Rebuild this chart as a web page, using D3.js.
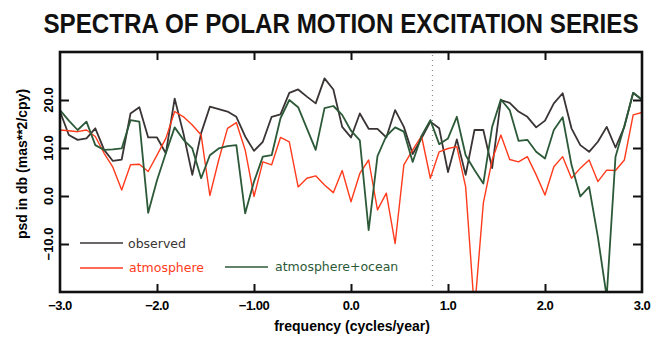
<!DOCTYPE html>
<html><head><meta charset="utf-8">
<script src="https://cdn.jsdelivr.net/npm/d3@7"></script>
<style>html,body{margin:0;padding:0;background:#fff;}svg{display:block;}</style>
</head><body>
<svg id="c" width="659" height="337"></svg>
<script>
const freq = [-3.000,-2.909,-2.818,-2.727,-2.636,-2.545,-2.455,-2.364,-2.273,-2.182,-2.091,-2.000,-1.909,-1.818,-1.727,-1.636,-1.545,-1.455,-1.364,-1.273,-1.182,-1.091,-1.000,-0.909,-0.818,-0.727,-0.636,-0.545,-0.455,-0.364,-0.273,-0.182,-0.091,0.000,0.091,0.182,0.273,0.364,0.455,0.545,0.636,0.727,0.818,0.909,1.000,1.091,1.182,1.273,1.364,1.455,1.545,1.636,1.727,1.818,1.909,2.000,2.091,2.182,2.273,2.364,2.455,2.545,2.636,2.727,2.818,2.909,3.000];
const observed = [17.6,12.7,11.7,12.0,14.1,9.6,7.3,7.6,17.2,18.5,12.2,12.2,8.9,20.3,13.0,4.4,13.1,18.6,18.1,17.6,16.5,12.4,9.4,11.3,16.5,17.0,21.5,22.2,20.7,19.3,24.5,22.2,14.4,12.2,17.2,14.0,14.0,12.2,17.9,14.4,8.75,12.0,15.5,14.1,5.0,11.8,4.4,13.75,13.75,5.8,20.0,19.4,17.6,16.5,14.3,15.7,19.3,21.4,14.1,10.6,9.2,11.3,14.4,10.1,14.4,21.5,20.0];
const atmosphere = [13.75,13.6,13.4,13.75,12.4,8.9,6.0,1.25,6.5,6.6,5.1,8.5,12.0,17.6,16.5,14.8,12.7,0.1,7.5,14.1,15.3,9.6,-0.1,7.1,6.5,12.2,11.3,1.9,3.7,4.2,2.3,0.7,5.3,-1.2,4.7,7.5,-2.9,0.6,-9.9,6.5,9.6,12.5,3.7,9.2,9.9,10.3,1.9,-24,-1.5,7.5,12.7,7.6,7.1,8.2,4.4,0.2,6.1,8.2,3.7,5.8,7.5,3.0,5.4,5.3,7.5,16.9,17.4];
const atmOcean = [17.9,15.7,13.75,15.5,10.6,9.6,9.7,9.9,15.8,15.5,-3.5,3.3,8.9,14.3,11.7,9.9,3.7,8.5,9.9,10.4,10.6,-3.6,3.0,8.2,8.5,16.2,20.0,18.5,14.1,9.6,18.3,18.75,16.9,13.6,11.6,-7.1,8.3,12.5,14.3,13.4,7.1,12.5,15.8,10.8,12.0,16.5,8.5,5.4,2.6,14.4,20.1,17.9,11.5,11.7,9.2,7.8,13.75,16.4,6.5,-0.1,1.9,-8.5,-21,8.2,14.6,21.5,20.1];
const xTicks = [-3,-2,-1,0,1,2,3];
const xTickLabels = ["\u22123.0","\u22122.0","\u22121.00","0.0","1.0","2.0","3.0"];
const yTicks = [-10,0,10,20];
const yTickLabels = ["\u221210.0","0.0","10.0","20.0"];
const chandler = [0.84];
const seriesNames = ["observed","atmosphere","atmosphere+ocean"];
const seriesColors = ["#3a3434","#ff3b1c","#2c5a38"];

const svg = d3.select("#c");
const L=60, R=642, T=52, B=292;
const x = d3.scaleLinear().domain([-3,3]).range([L,R]);
const y = d3.scaleLinear().domain([-20,30]).range([B,T]);

svg.append("defs").append("clipPath").attr("id","clip")
  .append("rect").attr("x",L).attr("y",T).attr("width",R-L).attr("height",B-T);

// title (horizontally condensed)
svg.append("text").attr("transform","translate(341,33) scale(0.865,1)")
  .attr("text-anchor","middle")
  .style("font-family","Liberation Sans, Arial, sans-serif").style("font-size","28px")
  .style("font-weight","bold").style("fill","#111")
  .text("SPECTRA OF POLAR MOTION EXCITATION SERIES");

// dotted line
svg.selectAll("line.ch").data(chandler).enter().append("line")
  .attr("x1",d=>x(d)).attr("x2",d=>x(d)).attr("y1",T+3).attr("y2",B-3)
  .attr("stroke","#888").attr("stroke-width",1.2).attr("stroke-dasharray","1,4");

// lines
const line = d3.line().x((d,i)=>x(freq[i])).y(d=>y(d));
const g = svg.append("g").attr("clip-path","url(#clip)");
[[observed,0,1.8],[atmosphere,1,1.4],[atmOcean,2,1.8]].forEach(([data,k,w])=>{
  g.append("path").datum(data).attr("d",line).attr("fill","none")
   .attr("stroke",seriesColors[k]).attr("stroke-width",w).attr("stroke-linejoin","round");
});

// axes ticks (inward)
const axB = d3.axisBottom(x).tickValues(xTicks.slice(1,-1)).tickSize(-8).tickFormat("");
const axT = d3.axisTop(x).tickValues(xTicks.slice(1,-1)).tickSize(-8).tickFormat("");
const axL = d3.axisLeft(y).tickValues(yTicks).tickSize(-9).tickFormat("");
const axR = d3.axisRight(y).tickValues(yTicks).tickSize(-9).tickFormat("");
[[axB,`translate(0,${B})`],[axT,`translate(0,${T})`],[axL,`translate(${L},0)`],[axR,`translate(${R},0)`]].forEach(([a,t])=>{
  const gg = svg.append("g").attr("transform",t).call(a);
  gg.select(".domain").remove();
  gg.selectAll("line").attr("stroke","#111").attr("stroke-width",2);
});

// frame
svg.append("rect").attr("x",L).attr("y",T).attr("width",R-L).attr("height",B-T)
  .attr("fill","none").attr("stroke","#111").attr("stroke-width",2.6);

// x tick labels
svg.selectAll("text.xt").data(xTicks).enter().append("text")
  .attr("x",d=>x(d)).attr("y",310).attr("text-anchor","middle")
  .style("font-family","Liberation Sans, Arial, sans-serif").style("font-weight","bold").style("font-size","13px")
  .style("letter-spacing","-0.5px")
  .text((d,i)=>xTickLabels[i]);

// y tick labels
svg.selectAll("text.yt").data(yTicks).enter().append("text")
  .attr("transform",d=>`translate(53,${y(d)}) rotate(-90)`).attr("text-anchor","middle")
  .style("font-family","Liberation Sans, Arial, sans-serif").style("font-weight","bold").style("font-size","13px")
  .text((d,i)=>yTickLabels[i]);

// axis titles
svg.append("text").attr("x",352).attr("y",331).attr("text-anchor","middle")
  .style("font-family","Liberation Sans, Arial, sans-serif").style("font-weight","bold").style("font-size","14px")
  .text("frequency (cycles/year)");
svg.append("text").attr("transform","translate(27,164) rotate(-90)").attr("text-anchor","middle")
  .style("font-family","Liberation Sans, Arial, sans-serif").style("font-weight","bold").style("font-size","14px")
  .text("psd in db (mas**2/cpy)");

// legend
const leg = [
  {x1:80,x2:123,y:243,tx:128,ty:248,k:0},
  {x1:80,x2:123,y:268,tx:129,ty:272,k:1},
  {x1:225,x2:268,y:267,tx:275,ty:271,k:2}
];
leg.forEach(d=>{
  svg.append("line").attr("x1",d.x1).attr("x2",d.x2).attr("y1",d.y).attr("y2",d.y)
    .attr("stroke",seriesColors[d.k]).attr("stroke-width",1.6);
  svg.append("text").attr("x",d.tx).attr("y",d.ty)
    .style("font-family","DejaVu Sans, sans-serif").style("font-size","12.5px")
    .style("fill",seriesColors[d.k])
    .text(seriesNames[d.k]);
});
</script>
</body></html>
